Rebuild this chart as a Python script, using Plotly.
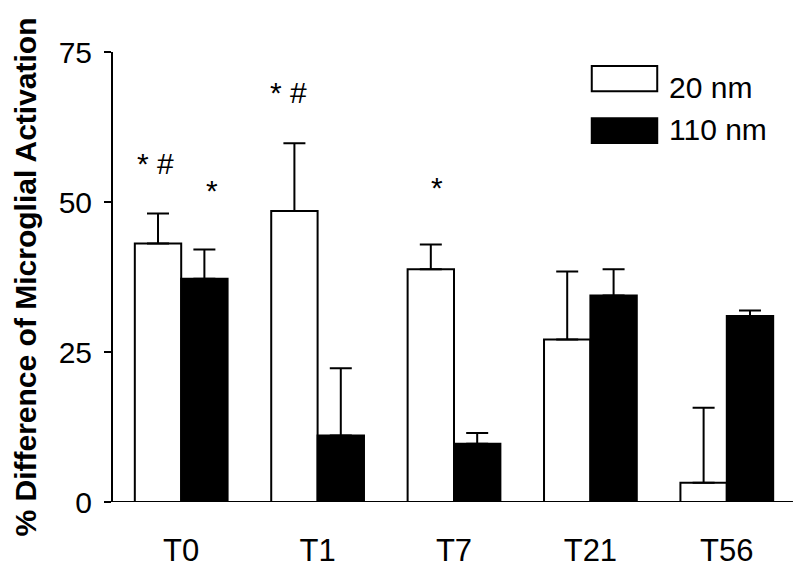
import plotly.graph_objects as go

categories = ["T0", "T1", "T7", "T21", "T56"]
values_20nm = [43.1, 48.5, 38.8, 27.1, 3.2]
err_20nm = [5.0, 11.3, 4.1, 11.3, 12.5]
values_110nm = [37.2, 11.1, 9.7, 34.4, 31.0]
err_110nm = [4.9, 11.2, 1.8, 4.4, 0.9]
series_names = ["20 nm", "110 nm"]
y_ticks = [0, 25, 50, 75]

# significance markers: (category, series index, text, y value)
sig_marks = [("T0", 0, "* #", 56.5), ("T0", 1, "*", 52.0),
             ("T1", 0, "* #", 68.3), ("T7", 0, "*", 52.5)]
sig_shift_px = [-3, 8, -6, 6]

FONT = "Liberation Sans, Arial, sans-serif"

fig = go.Figure()
fig.add_trace(go.Bar(
    x=categories, y=values_20nm, name=series_names[0],
    marker=dict(color="white", line=dict(color="black", width=2)),
    error_y=dict(type="data", array=err_20nm, arrayminus=[0]*5, symmetric=False,
                 color="black", thickness=2, width=11),
))
fig.add_trace(go.Bar(
    x=categories, y=values_110nm, name=series_names[1],
    marker=dict(color="black", line=dict(color="black", width=2)),
    error_y=dict(type="data", array=err_110nm, arrayminus=[0]*5, symmetric=False,
                 color="black", thickness=2, width=11),
))

bargap = 0.32
half = (1 - bargap) / 4  # offset of each bar center from category center, in category units
for (cat, s, txt, yv), sh in zip(sig_marks, sig_shift_px):
    idx = categories.index(cat)
    xpos = idx + (-half if s == 0 else half)
    fig.add_annotation(x=xpos, y=yv, text=txt, showarrow=False, xref="x", yref="y",
                       font=dict(size=30, color="black", family=FONT), xshift=sh)

# legend drawn manually with large swatches
leg_boxes = [("white", 0.913, 0.969), ("black", 0.798, 0.853)]
leg_text_y = [0.92, 0.827]
for name, (col, y0, y1), ty in zip(series_names, leg_boxes, leg_text_y):
    fig.add_shape(type="rect", xref="paper", yref="paper",
                  x0=0.702, x1=0.798, y0=y0, y1=y1,
                  fillcolor=col, line=dict(color="black", width=2))
    fig.add_annotation(xref="paper", yref="paper", x=0.812, y=ty,
                       text=name, showarrow=False, xanchor="left", yanchor="middle",
                       font=dict(size=30, color="black", family=FONT))

# extend x axis line slightly left of y axis
fig.add_shape(type="line", xref="paper", yref="y", x0=-0.011, x1=0.997, y0=0, y1=0,
              line=dict(color="black", width=2))

fig.update_layout(
    width=800, height=574,
    barmode="group", bargap=bargap, bargroupgap=0,
    plot_bgcolor="white", paper_bgcolor="white",
    showlegend=False,
    margin=dict(l=113, r=5, t=52, b=72, autoexpand=False),
    font=dict(family=FONT, color="black"),
    xaxis=dict(showline=False, ticks="", automargin=False,
               tickfont=dict(size=31, family=FONT), showgrid=False,
               ticklabelstandoff=27, range=[-0.5, 4.5]),
    yaxis=dict(range=[0, 75], tickvals=y_ticks, showline=True, linecolor="black",
               linewidth=2, ticks="outside", ticklen=7, tickwidth=2, tickcolor="black",
               showgrid=False, zeroline=False, automargin=False,
               ticklabelstandoff=6,
               tickfont=dict(size=30, family=FONT),
               title=dict(text="<b>% Difference of Microglial Activation</b>",
                          font=dict(size=30, family=FONT), standoff=13)),
)

fig.write_html("out.html", config={"displayModeBar": False},
               post_script="document.body.style.margin='0';document.body.style.overflow='hidden';")
